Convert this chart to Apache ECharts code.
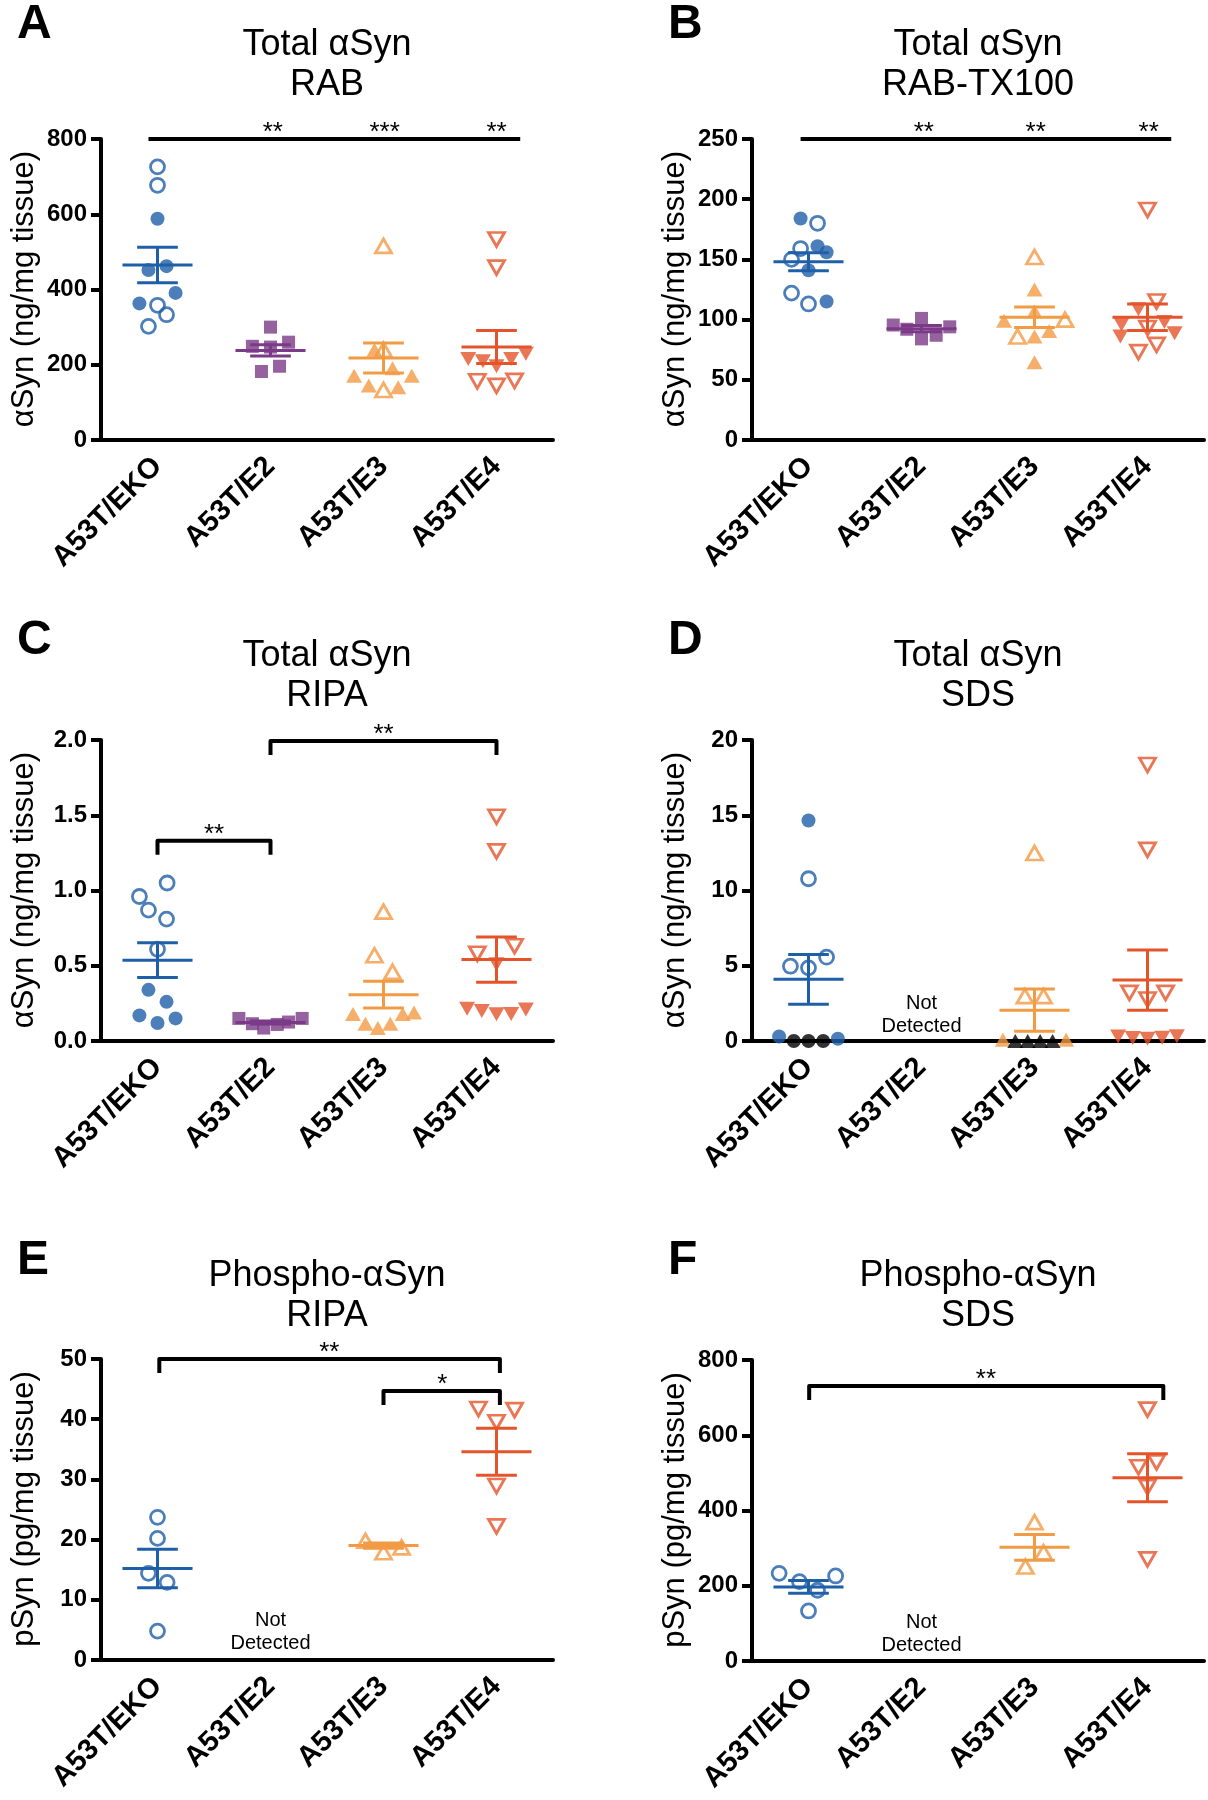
<!DOCTYPE html>
<html><head><meta charset="utf-8">
<script src="https://cdn.jsdelivr.net/npm/echarts@6/dist/echarts.min.js"></script>
<style>html,body{margin:0;padding:0;background:#fff}#c{width:1208px;height:1800px}</style>
</head><body><div id="c"></div>
<script>
// ---------------- DATA ----------------
const categories = ['A53T/EKO', 'A53T/E2', 'A53T/E3', 'A53T/E4'];
// points: [offset within category (category units), value]
// Panel A: Total aSyn RAB (ng/mg)
const A_EKO_open = [[0,726],[0,677],[0,358],[0.08,333],[-0.08,302]];
const A_EKO_filled = [[0,588],[-0.08,452],[0.08,462],[0.16,391],[-0.16,363]];
const A_E2_filled = [[0,300],[-0.16,249],[0,247],[0.16,260],[-0.08,182],[0.08,196]];
const A_E3_open = [[0,516],[0,240],[0,133]];
const A_E3_filled = [[-0.08,240],[0.08,191],[-0.26,171],[0.25,171],[-0.13,145],[0.13,140]];
const A_E4_open = [[0,533],[0,458],[-0.17,156],[0.16,157],[0,144]];
const A_E4_filled = [[-0.25,215],[-0.12,209],[0,196],[0.13,215],[0.26,229]];
const A_mean = [465, 238, 218, 247];
const A_sem = [47, 15, 40, 44];
const A_bars = [[-0.08, 3.21, 800, 0]];
const A_stars = [[1.02,'**',0],[2.01,'***',0],[3.0,'**',0]];
// Panel B: Total aSyn RAB-TX100
const B_EKO_open = [[0.08,180],[-0.07,159],[-0.15,150],[-0.15,122],[0,113]];
const B_EKO_filled = [[-0.07,184],[0.08,161],[0.16,156],[0,141],[0.16,115]];
const B_E2_filled = [[0,101],[-0.25,95.5],[-0.13,92],[0.25,94],[0.13,87],[0,84]];
const B_E3_open = [[0,152],[0.27,100],[-0.15,86]];
const B_E3_filled = [[0,125],[0,107],[-0.27,99],[0.13,90.5],[0,86],[0,64.5]];
const B_E4_open = [[0,191],[0.08,115],[0,93],[-0.08,73],[0.08,79]];
const B_E4_filled = [[-0.08,108.5],[-0.23,96],[0.15,98],[-0.24,86],[0.24,88.6]];
const B_mean = [148, 92.5, 102, 102];
const B_sem = [7.5, 2.5, 8.5, 11];
const B_bars = [[-0.07, 3.21, 250, 0]];
const B_stars = [[1.02,'**',0],[2.01,'**',0],[3.01,'**',0]];
// Panel C: Total aSyn RIPA
const C_EKO_open = [[0.085,1.05],[-0.16,0.96],[-0.08,0.87],[0.08,0.81],[0,0.61]];
const C_EKO_filled = [[-0.08,0.34],[0.08,0.26],[-0.16,0.17],[0.16,0.15],[0,0.12]];
const C_E2_filled = [[-0.28,0.15],[-0.16,0.115],[-0.06,0.086],[0.06,0.11],[0.16,0.126],[0.28,0.15]];
const C_E3_open = [[0,0.86],[-0.08,0.57],[0.08,0.46]];
const C_E3_filled = [[-0.27,0.18],[0.17,0.18],[0.27,0.19],[-0.16,0.115],[0.06,0.115],[-0.05,0.086]];
const C_E4_open = [[0,1.49],[0,1.26],[0.16,0.63],[-0.17,0.58]];
const C_E4_filled = [[0,0.51],[-0.26,0.215],[-0.13,0.2],[0,0.177],[0.13,0.18],[0.26,0.21]];
const C_mean = [0.537, 0.123, 0.308, 0.541];
const C_sem = [0.115, 0.01, 0.089, 0.15];
const C_bars = [[0, 1, 1.33, 1], [1, 3, 1.993, 1]];
const C_stars = [[0.5,'**',0],[2.0,'**',1]];
// Panel D: Total aSyn SDS
const D_EKO_open = [[0,10.78],[0.16,5.57],[-0.16,4.97],[0,4.86]];
const D_EKO_filled = [[0,14.65],[-0.26,0.3],[0.26,0.15]];
const D_EKO_zero = [[-0.13,0],[0,0],[0.13,0]];
const D_E3_open = [[0,12.49],[-0.085,2.98],[0.08,2.98]];
const D_E3_filled = [[-0.28,0.08],[0.28,0.08]];
const D_E3_zero = [[-0.17,0],[-0.06,0],[0.05,0],[0.16,0]];
const D_E4_open = [[0,18.34],[0,12.7],[-0.16,3.2],[0.16,3.2],[0,2.76]];
const D_E4_filled = [[-0.26,0.3],[-0.13,0.2],[0,0.15],[0.13,0.22],[0.26,0.32]];
const D_mean = [4.1, null, 2.05, 4.05];
const D_sem = [1.65, null, 1.4, 2.0];
const D_notDetected = 1.7;
// Panel E: Phospho-aSyn RIPA (pg/mg)
const E_EKO_open = [[0,23.7],[0,20.2],[-0.08,14.4],[0.085,12.9],[0,4.8]];
const E_E3_open = [[-0.16,19.8],[0,17.9],[0.16,18.7]];
const E_E4_open = [[-0.16,41.7],[0.16,41.5],[0,39.5],[0,28.9],[0,22.2]];
const E_mean = [15.2, null, 19.0, 34.6];
const E_sem = [3.2, null, 0.45, 3.9];
const E_bars = [[0.016, 3.03, 50, 1], [2.0, 3.03, 44.7, 1]];
const E_stars = [[1.52,'**',0],[2.52,'*',1]];
const E_notDetected = 4.65;
// Panel F: Phospho-aSyn SDS
const F_EKO_open = [[-0.26,233],[0.24,226],[-0.08,211],[0.08,188],[0,133]];
const F_E3_open = [[0,369],[0.08,289],[-0.08,251]];
const F_E4_open = [[0,668],[0.08,528],[-0.08,515],[0,462],[0,270]];
const F_mean = [197, null, 302, 487];
const F_sem = [17, null, 34, 64];
const F_bars = [[0.006, 3.14, 731, 1]];
const F_stars = [[1.57,'**',0]];
const F_notDetected = 73;

// ---------------- STYLE ----------------
const FONT = '"Liberation Sans", Arial, Helvetica, sans-serif';
const COLORS = ['#1f5fa8', '#7b3a87', '#f29b45', '#e4542a'];
const SYMBOL = ['circle', 'rect', 'triangle', 'triangle'];
const SYMROT = [0, 0, 0, 180];
const SYMSIZE = [14, 13, [16, 14], [16, 14]];

const grids = [], xAxes = [], yAxes = [], series = [], graphics = [];

function addPanel(p) {
  const gi = grids.length;
  grids.push({ left: p.left, top: p.top, width: 452, height: 301 });
  xAxes.push({
    type: 'category', gridIndex: gi, data: categories,
    axisLine: { onZero: false, lineStyle: { color: '#000', width: 4 } },
    axisTick: { alignWithLabel: true, length: 10, lineStyle: { color: '#000', width: 4 } },
    axisLabel: { rotate: 45, margin: 22, interval: 0, fontFamily: FONT, fontWeight: 'bold', fontSize: 29, color: '#000' },
    splitLine: { show: false }
  });
  xAxes.push({ type: 'value', gridIndex: gi, min: -0.5, max: 3.5, show: false, splitLine: { show: false } });
  yAxes.push({
    type: 'value', gridIndex: gi, min: 0, max: p.max, interval: p.interval,
    axisLine: { show: true, onZero: false, lineStyle: { color: '#000', width: 4 } },
    axisTick: { show: true, length: 10, lineStyle: { color: '#000', width: 4 } },
    axisLabel: { margin: 14, fontFamily: FONT, fontWeight: 'bold', fontSize: 24, color: '#000',
      formatter: v => p.decimals ? v.toFixed(p.decimals) : String(v) },
    splitLine: { show: false }
  });
  const xv = 2 * gi + 1;
  const mk = (cat, pts, kind) => {
    if (!pts || !pts.length) return;
    const col = COLORS[cat];
    let itemStyle;
    if (kind === 'open') itemStyle = { color: 'rgba(255,255,255,0)', borderColor: col, borderWidth: 2.8 };
    else if (kind === 'zero') itemStyle = { color: '#000' };
    else itemStyle = { color: col };
    series.push({
      type: 'scatter', xAxisIndex: xv, yAxisIndex: gi, silent: true, z: 3,
      symbol: SYMBOL[cat], symbolRotate: SYMROT[cat], symbolSize: SYMSIZE[cat],
      itemStyle, data: pts.map(d => [cat + d[0], d[1]])
    });
  };
  p.groups.forEach(g => { mk(g[0], g[1], 'filled'); mk(g[0], g[2], 'open'); mk(g[0], g[3], 'zero'); });
  // mean +/- SEM
  const ms = [];
  p.mean.forEach((m, i) => { if (m != null) ms.push([i, m, p.sem[i]]); });
  series.push({
    type: 'custom', xAxisIndex: xv, yAxisIndex: gi, silent: true, z: 5, clip: false,
    data: ms,
    renderItem: (params, api) => {
      const i = api.value(0), m = api.value(1), s = api.value(2);
      const c = api.coord([i, m]), hi = api.coord([i, m + s]), lo = api.coord([i, m - s]);
      const w = api.size([1, 0])[0];
      const st = { stroke: COLORS[i], lineWidth: 3 };
      return { type: 'group', children: [
        { type: 'line', shape: { x1: c[0] - 0.31 * w, y1: c[1], x2: c[0] + 0.31 * w, y2: c[1] }, style: st },
        { type: 'line', shape: { x1: c[0] - 0.18 * w, y1: hi[1], x2: c[0] + 0.18 * w, y2: hi[1] }, style: st },
        { type: 'line', shape: { x1: c[0] - 0.18 * w, y1: lo[1], x2: c[0] + 0.18 * w, y2: lo[1] }, style: st },
        { type: 'line', shape: { x1: c[0], y1: hi[1], x2: c[0], y2: lo[1] }, style: st }
      ] };
    }
  });
  // significance bars
  if (p.bars) {
    series.push({
      type: 'custom', xAxisIndex: xv, yAxisIndex: gi, silent: true, z: 6, clip: false,
      data: p.bars.map(b => [b[0], b[1], b[2], b[3]]),
      renderItem: (params, api) => {
        const a = api.coord([api.value(0), api.value(2)]);
        const b = api.coord([api.value(1), api.value(2)]);
        const st = { stroke: '#000', lineWidth: 4, lineCap: 'butt' };
        const ch = [];
        if (api.value(3)) {
          ch.push({ type: 'polyline', shape: { points: [[a[0], a[1] + 14], [a[0], a[1]], [b[0], b[1]], [b[0], b[1] + 14]] }, style: Object.assign({ fill: null, lineJoin: 'round' }, st) });
        } else {
          ch.push({ type: 'line', shape: { x1: a[0], y1: a[1], x2: b[0], y2: b[1] }, style: Object.assign({ lineCap: 'round' }, st) });
        }
        return { type: 'group', children: ch };
      }
    });
    series.push({
      type: 'custom', xAxisIndex: xv, yAxisIndex: gi, silent: true, z: 6, clip: false,
      data: p.stars.map(s => [s[0], p.bars[s[2]][2]]),
      renderItem: (params, api) => {
        const c = api.coord([api.value(0), api.value(1)]);
        return { type: 'text', x: c[0], y: c[1] - 6,
          style: { text: p.stars[params.dataIndex][1], font: '26px ' + FONT, fill: '#000', align: 'center', verticalAlign: 'middle' } };
      }
    });
  }
  if (p.nd != null) {
    series.push({
      type: 'custom', xAxisIndex: xv, yAxisIndex: gi, silent: true, z: 6, clip: false,
      data: [[1, p.nd]],
      renderItem: (params, api) => {
        const c = api.coord([api.value(0), api.value(1)]);
        return { type: 'text', x: c[0], y: c[1],
          style: { text: 'Not\nDetected', font: '20px ' + FONT, lineHeight: 23, fill: '#000', align: 'center', verticalAlign: 'middle' } };
      }
    });
  }
  // titles, panel letter, y-axis name
  const cx = p.left + 226;
  graphics.push({ type: 'text', x: cx, y: p.titleY, style: { text: p.title1, font: '36px ' + FONT, fill: '#000', align: 'center', verticalAlign: 'middle' } });
  graphics.push({ type: 'text', x: cx, y: p.titleY + 40, style: { text: p.title2, font: '36px ' + FONT, fill: '#000', align: 'center', verticalAlign: 'middle' } });
  graphics.push({ type: 'text', x: p.left - 84, y: p.letterY, style: { text: p.letter, font: 'bold 48px ' + FONT, fill: '#000', align: 'left', verticalAlign: 'middle' } });
  graphics.push({ type: 'text', x: p.left - 77, y: p.top + 150, rotation: Math.PI / 2,
    style: { text: p.yname, font: '31px ' + FONT, fill: '#000', align: 'center', verticalAlign: 'middle' } });
}

addPanel({ left: 101, top: 139, max: 800, interval: 200, letter: 'A', letterY: 25, titleY: 45,
  title1: 'Total αSyn', title2: 'RAB', yname: 'αSyn (ng/mg tissue)',
  groups: [[0, A_EKO_filled, A_EKO_open], [1, A_E2_filled], [2, A_E3_filled, A_E3_open], [3, A_E4_filled, A_E4_open]],
  mean: A_mean, sem: A_sem, bars: A_bars, stars: A_stars });
addPanel({ left: 752, top: 139, max: 250, interval: 50, letter: 'B', letterY: 25, titleY: 45,
  title1: 'Total αSyn', title2: 'RAB-TX100', yname: 'αSyn (ng/mg tissue)',
  groups: [[0, B_EKO_filled, B_EKO_open], [1, B_E2_filled], [2, B_E3_filled, B_E3_open], [3, B_E4_filled, B_E4_open]],
  mean: B_mean, sem: B_sem, bars: B_bars, stars: B_stars });
addPanel({ left: 101, top: 740, max: 2.0, interval: 0.5, decimals: 1, letter: 'C', letterY: 641, titleY: 656,
  title1: 'Total αSyn', title2: 'RIPA', yname: 'αSyn (ng/mg tissue)',
  groups: [[0, C_EKO_filled, C_EKO_open], [1, C_E2_filled], [2, C_E3_filled, C_E3_open], [3, C_E4_filled, C_E4_open]],
  mean: C_mean, sem: C_sem, bars: C_bars, stars: C_stars });
addPanel({ left: 752, top: 740, max: 20, interval: 5, letter: 'D', letterY: 641, titleY: 656,
  title1: 'Total αSyn', title2: 'SDS', yname: 'αSyn (ng/mg tissue)',
  groups: [[0, D_EKO_filled, D_EKO_open, D_EKO_zero], [2, D_E3_filled, D_E3_open, D_E3_zero], [3, D_E4_filled, D_E4_open]],
  mean: D_mean, sem: D_sem, nd: D_notDetected });
addPanel({ left: 101, top: 1359, max: 50, interval: 10, letter: 'E', letterY: 1261, titleY: 1276,
  title1: 'Phospho-αSyn', title2: 'RIPA', yname: 'pSyn (pg/mg tissue)',
  groups: [[0, null, E_EKO_open], [2, null, E_E3_open], [3, null, E_E4_open]],
  mean: E_mean, sem: E_sem, bars: E_bars, stars: E_stars, nd: E_notDetected });
addPanel({ left: 752, top: 1360, max: 800, interval: 200, letter: 'F', letterY: 1261, titleY: 1276,
  title1: 'Phospho-αSyn', title2: 'SDS', yname: 'pSyn (pg/mg tissue)',
  groups: [[0, null, F_EKO_open], [2, null, F_E3_open], [3, null, F_E4_open]],
  mean: F_mean, sem: F_sem, bars: F_bars, stars: F_stars, nd: F_notDetected });

const chart = echarts.init(document.getElementById('c'), null, { renderer: 'canvas' });
chart.setOption({
  animation: false,
  backgroundColor: '#fff',
  grid: grids, xAxis: xAxes, yAxis: yAxes, series: series, graphic: graphics
});
</script></body></html>
